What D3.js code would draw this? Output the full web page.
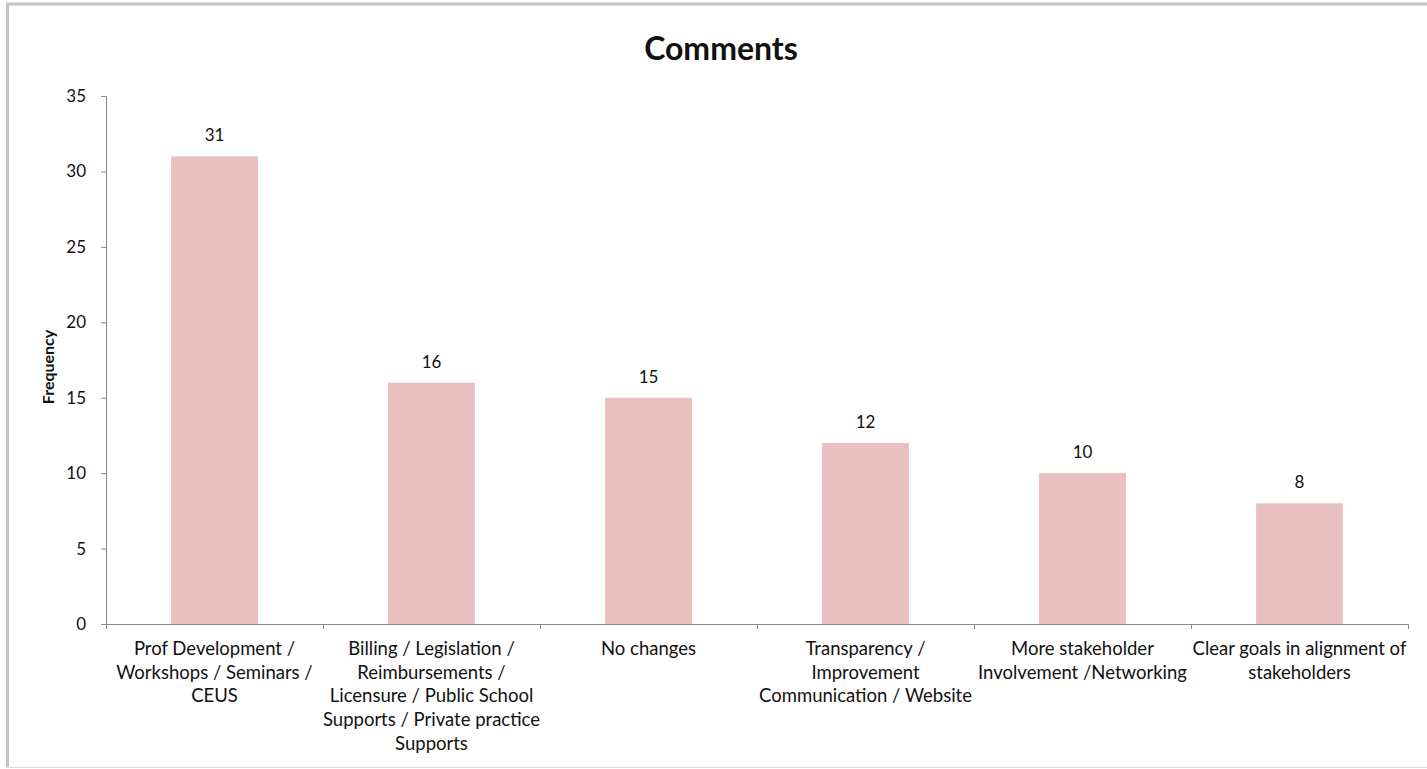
<!DOCTYPE html>
<html>
<head>
<meta charset="utf-8">
<script src="https://cdn.jsdelivr.net/npm/d3@7"></script>
<style>
  html, body { margin: 0; padding: 0; background: #fff; }
  svg { display: block; }
  text { font-family: Lato, "Open Sans", sans-serif; fill: #111; }
</style>
</head>
<body>
<svg id="chart" width="1427" height="769"></svg>
<script>
// Comment categories (one entry per line of the wrapped label)
const categories = [
  ["Prof Development /", "Workshops / Seminars /", "CEUS"],
  ["Billing / Legislation /", "Reimbursements /", "Licensure / Public School", "Supports / Private practice", "Supports"],
  ["No changes"],
  ["Transparency /", "Improvement", "Communication / Website"],
  ["More stakeholder", "Involvement /Networking"],
  ["Clear goals in alignment of", "stakeholders"]
];
const frequencies = [31, 16, 15, 12, 10, 8];
const yTicks = [0, 5, 10, 15, 20, 25, 30, 35];

const svg = d3.select("#chart");

// chart frame
svg.append("line").attr("x1", 7.5).attr("x2", 7.5).attr("y1", 3).attr("y2", 767)
  .attr("stroke", "#c4c4c4").attr("stroke-width", 3);
svg.append("line").attr("x1", 6).attr("x2", 1427).attr("y1", 4).attr("y2", 4)
  .attr("stroke", "#c4c4c4").attr("stroke-width", 3);
svg.append("line").attr("x1", 6).attr("x2", 1427).attr("y1", 767.5).attr("y2", 767.5)
  .attr("stroke", "#dcdcdc").attr("stroke-width", 1);

const plotLeft = 106, plotRight = 1408, plotTop = 96, plotBottom = 624;

const ids = categories.map((_, i) => i);
const x = d3.scaleBand().domain(ids).range([plotLeft, plotRight])
  .paddingInner(0.6).paddingOuter(0.3);
const y = d3.scaleLinear().domain([0, 35]).range([plotBottom, plotTop]);

// title
svg.append("text").attr("x", 721).attr("y", 60).attr("text-anchor", "middle")
  .style("font-size", "32px").style("font-weight", "bold").text("Comments");

// y axis
const yAxis = svg.append("g").attr("transform", `translate(${plotLeft},0)`)
  .call(d3.axisLeft(y).tickValues(yTicks).tickSize(5).tickPadding(15));
yAxis.select(".domain").attr("stroke", "#8a8a8a");
yAxis.selectAll(".tick line").attr("stroke", "#8a8a8a");
yAxis.selectAll(".tick text").style("font-size", "17px").attr("fill", "#111")
  .style("font-family", "Lato, sans-serif");

svg.append("text")
  .attr("transform", `translate(54,${(plotTop + plotBottom) / 2 + 7}) rotate(-90)`)
  .attr("text-anchor", "middle").style("font-size", "16px").style("font-weight", "bold")
  .text("Frequency");

// bars
svg.append("g").selectAll("rect").data(frequencies).join("rect")
  .attr("x", (d, i) => x(i)).attr("width", x.bandwidth())
  .attr("y", d => y(d)).attr("height", d => y(0) - y(d))
  .attr("fill", "#e9bfbf");

// value labels
svg.append("g").selectAll("text").data(frequencies).join("text")
  .attr("x", (d, i) => x(i) + x.bandwidth() / 2).attr("y", d => y(d) - 15)
  .attr("text-anchor", "middle").style("font-size", "17px").text(d => d);

// x axis with ticks at category boundaries
const bounds = ids.map(i => x(i) - x.step() * x.paddingInner() / 2);
bounds[0] = plotLeft;
bounds.push(plotRight);
const xAxis = svg.append("g");
xAxis.append("line").attr("x1", plotLeft).attr("x2", plotRight)
  .attr("y1", plotBottom + 0.5).attr("y2", plotBottom + 0.5).attr("stroke", "#8a8a8a");
xAxis.selectAll("line.tk").data(bounds).join("line").attr("class", "tk")
  .attr("x1", d => Math.round(d) + 0.5).attr("x2", d => Math.round(d) + 0.5)
  .attr("y1", plotBottom).attr("y2", plotBottom + 5).attr("stroke", "#8a8a8a");

// wrapped category labels
const lab = svg.append("g").selectAll("text").data(categories).join("text")
  .attr("text-anchor", "middle").style("font-size", "18.5px");
lab.each(function (lines, i) {
  const cx = x(i) + x.bandwidth() / 2;
  d3.select(this).selectAll("tspan").data(lines).join("tspan")
    .attr("x", cx).attr("y", (l, k) => 655 + k * 23.7).text(l => l);
});
</script>
</body>
</html>
